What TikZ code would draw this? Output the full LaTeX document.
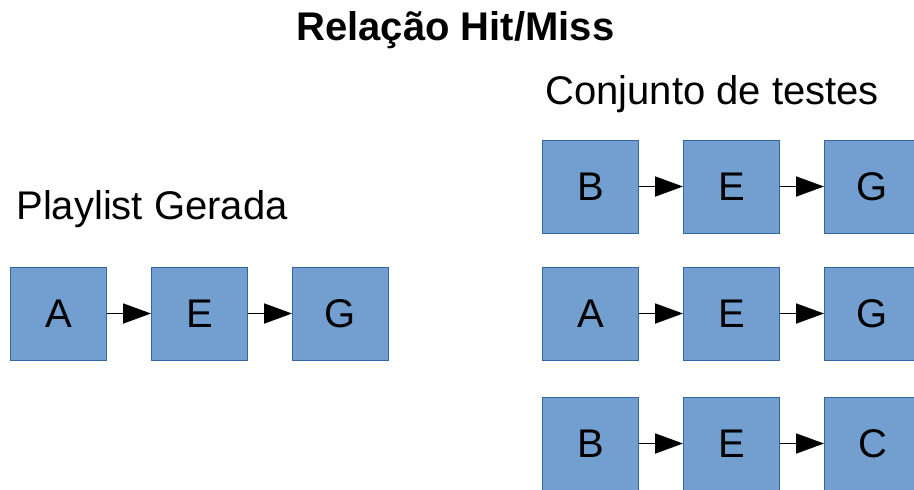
\documentclass[tikz,border=0pt]{standalone}
\usepackage{fontspec}
\setmainfont{Liberation Sans}
\usepackage{xcolor}
\usetikzlibrary{arrows.meta, positioning}

\definecolor{boxfill}{HTML}{729FCF}
\definecolor{boxline}{HTML}{3465A4}

\tikzset{
    box/.style={draw=boxline, fill=boxfill, line width=0.5pt, minimum width=48pt, minimum height=46.5pt, inner sep=0pt, font=\fontsize{20}{24}\selectfont},
    arr/.style={-{Triangle[length=14pt, width=10pt]}, line width=0.9pt, black},
    label/.style={anchor=base west, inner sep=0pt, font=\fontsize{20}{24}\selectfont}
}

\begin{document}
\begin{tikzpicture}[x=0.5pt, y=-0.5pt]
            \newcommand{\Gap}{22pt}

            \useasboundingbox (0,0) rectangle (914,489);
            \clip (0,0) rectangle (914,489);

            \node[label, font=\fontsize{20}{24}\selectfont\bfseries] (title) at (296,40) {Relação Hit/Miss};
            \node[label] (playlist) at (16,219) {Playlist Gerada};
            \node[label] (testes) at (545,104) {Conjunto de testes};

            % Playlist gerada
            \node[box] (pa) at (58.5,313.5) {A};
            \node[box, right=\Gap of pa] (pe) {E};
            \node[box, right=\Gap of pe] (pg) {G};

            \draw[arr] (pa) -- (pe);
            \draw[arr] (pe) -- (pg);

            % Conjunto de testes
            \node[box] (t1b) at (590.5,186.5) {B};
            \node[box, right=\Gap of t1b] (t1e) {E};
            \node[box, right=\Gap of t1e] (t1g) {G};

            \node[box] (t2a) at (590.5,313.5) {A};
            \node[box, right=\Gap of t2a] (t2e) {E};
            \node[box, right=\Gap of t2e] (t2g) {G};

            \node[box] (t3b) at (590.5,443.5) {B};
            \node[box, right=\Gap of t3b] (t3e) {E};
            \node[box, right=\Gap of t3e] (t3c) {C};

            \draw[arr] (t1b) -- (t1e);
            \draw[arr] (t1e) -- (t1g);
            \draw[arr] (t2a) -- (t2e);
            \draw[arr] (t2e) -- (t2g);
            \draw[arr] (t3b) -- (t3e);
            \draw[arr] (t3e) -- (t3c);
        \end{tikzpicture}
\end{document}
